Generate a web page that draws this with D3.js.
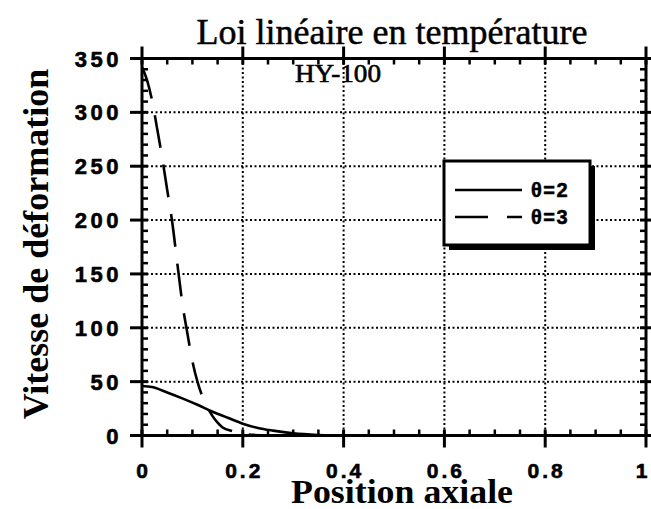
<!DOCTYPE html>
<html>
<head>
<meta charset="utf-8">
<script src="https://cdn.jsdelivr.net/npm/d3@7"></script>
<style>
  html, body { margin: 0; padding: 0; background: #fff; }
  svg { display: block; }
</style>
</head>
<body>
<svg id="chart" width="651" height="509"></svg>
<script>
// Axial position and strain rate for each curve
const positionTheta2 = [0, 0.02, 0.05, 0.08, 0.11, 0.14, 0.17, 0.2, 0.23, 0.26, 0.3, 0.35, 0.4, 0.5, 0.6, 0.8, 1.0];
const rateTheta2     = [46, 45, 40, 34.5, 28.5, 22, 16.5, 11, 7, 4.5, 2, 0.5, 0, 0, 0, 0, 0];

const positionTheta3 = [0, 0.01, 0.02, 0.03, 0.04, 0.05, 0.06, 0.07, 0.08, 0.09, 0.1, 0.11, 0.12, 0.13, 0.14, 0.15, 0.16, 0.18, 0.2, 0.22, 0.25, 0.3, 0.4, 0.6, 0.8, 1.0];
const rateTheta3     = [342, 330, 311, 285, 258, 228, 198, 160, 123, 95, 69, 50, 36, 26, 18, 12, 7.5, 4, 1.8, 0.6, 0.1, 0, 0, 0, 0, 0];

const xTicks = [0, 0.2, 0.4, 0.6, 0.8, 1];
const yTicks = [0, 50, 100, 150, 200, 250, 300, 350];
const seriesNames = ["θ=2", "θ=3"];

const svg = d3.select("#chart");
const plotLeft = 142, plotRight = 646, plotTop = 58.5, plotBottom = 435.5;

const x = d3.scaleLinear().domain([0, 1]).range([plotLeft, plotRight]);
const y = d3.scaleLinear().domain([0, 350]).range([plotBottom, plotTop]);

// Dotted grid at interior major ticks
const grid = svg.append("g").attr("stroke", "#000").attr("stroke-width", 2)
  .attr("stroke-dasharray", "2,2.5");
xTicks.filter(v => v > 0 && v < 1).forEach(v => {
  grid.append("line").attr("x1", x(v)).attr("x2", x(v)).attr("y1", plotTop).attr("y2", plotBottom);
});
yTicks.filter(v => v > 0 && v < 350).forEach(v => {
  grid.append("line").attr("y1", y(v)).attr("y2", y(v)).attr("x1", plotLeft).attr("x2", plotRight);
});

// Curves
const data2 = positionTheta2.map((p, i) => [p, rateTheta2[i]]);
const data3 = positionTheta3.map((p, i) => [p, rateTheta3[i]]);

svg.append("path").datum(data2)
  .attr("d", d3.line().x(d => x(d[0])).y(d => y(d[1])).curve(d3.curveMonotoneX))
  .attr("fill", "none").attr("stroke", "#000").attr("stroke-width", 2.6);
svg.append("path").datum(data3)
  .attr("d", d3.line().x(d => x(d[0])).y(d => y(d[1])).curve(d3.curveMonotoneX))
  .attr("fill", "none").attr("stroke", "#000").attr("stroke-width", 2.6)
  .attr("stroke-dasharray", "33,17");

// Frame and ticks on all four sides
const axes = svg.append("g").attr("stroke", "#000");
axes.append("rect").attr("x", plotLeft).attr("y", plotTop)
  .attr("width", plotRight - plotLeft).attr("height", plotBottom - plotTop)
  .attr("fill", "none").attr("stroke-width", 3);

const minorX = d3.range(0, 1.0001, 0.05).filter(v => Math.abs(v * 5 - Math.round(v * 5)) > 1e-6);
const minorY = d3.range(0, 351, 10).filter(v => v % 50 !== 0);

const majorOut = 12, majorIn = 6, minorLen = 6;
xTicks.forEach(v => {
  axes.append("line").attr("x1", x(v)).attr("x2", x(v)).attr("y1", plotBottom - majorIn).attr("y2", plotBottom + majorOut).attr("stroke-width", 3);
  axes.append("line").attr("x1", x(v)).attr("x2", x(v)).attr("y1", plotTop - majorOut).attr("y2", plotTop + majorIn).attr("stroke-width", 3);
});
yTicks.forEach(v => {
  axes.append("line").attr("y1", y(v)).attr("y2", y(v)).attr("x1", plotLeft - majorOut).attr("x2", plotLeft + majorIn).attr("stroke-width", 3);
  axes.append("line").attr("y1", y(v)).attr("y2", y(v)).attr("x1", plotRight - majorIn).attr("x2", plotRight + majorOut).attr("stroke-width", 3);
});
minorX.forEach(v => {
  axes.append("line").attr("x1", x(v)).attr("x2", x(v)).attr("y1", plotBottom).attr("y2", plotBottom - minorLen).attr("stroke-width", 2.5);
  axes.append("line").attr("x1", x(v)).attr("x2", x(v)).attr("y1", plotTop).attr("y2", plotTop + minorLen).attr("stroke-width", 2.5);
});
minorY.forEach(v => {
  axes.append("line").attr("y1", y(v)).attr("y2", y(v)).attr("x1", plotLeft).attr("x2", plotLeft + minorLen).attr("stroke-width", 2.5);
  axes.append("line").attr("y1", y(v)).attr("y2", y(v)).attr("x1", plotRight).attr("x2", plotRight - minorLen).attr("stroke-width", 2.5);
});

// Tick labels
const tickFont = "'Liberation Sans', Arial, sans-serif";
svg.append("g").selectAll("text").data(xTicks).join("text")
  .attr("x", d => Math.min(x(d) + 1.5, 643)).attr("y", 478)
  .attr("text-anchor", "middle")
  .attr("font-family", tickFont).attr("font-weight", "bold").attr("font-size", 21)
  .attr("letter-spacing", 3).attr("stroke", "#000").attr("stroke-width", 0.6)
  .text(d => String(d));
svg.append("g").selectAll("text").data(yTicks).join("text")
  .attr("x", 122).attr("y", d => y(d) + 8)
  .attr("text-anchor", "end")
  .attr("font-family", tickFont).attr("font-weight", "bold").attr("font-size", 22)
  .attr("letter-spacing", 3.5).attr("stroke", "#000").attr("stroke-width", 0.6)
  .text(d => d);

// Titles
const serif = "'Liberation Serif', 'Times New Roman', serif";
svg.append("text").attr("x", 392).attr("y", 44).attr("text-anchor", "middle")
  .attr("font-family", serif).attr("font-size", 36)
  .attr("stroke", "#000").attr("stroke-width", 0.5)
  .text("Loi linéaire en température");
svg.append("text").attr("x", 402).attr("y", 503).attr("text-anchor", "middle")
  .attr("font-family", serif).attr("font-weight", "bold").attr("font-size", 33)
  .attr("textLength", 222).attr("lengthAdjust", "spacingAndGlyphs")
  .text("Position axiale");
svg.append("text").attr("transform", "translate(48,244) rotate(-90)").attr("text-anchor", "middle")
  .attr("font-family", serif).attr("font-weight", "bold").attr("font-size", 36).text("Vitesse de déformation");

// Material annotation
svg.append("text").attr("x", 338).attr("y", 82).attr("text-anchor", "middle")
  .attr("font-family", serif).attr("font-size", 25).attr("stroke", "#000").attr("stroke-width", 0.6)
  .attr("textLength", 86).attr("lengthAdjust", "spacingAndGlyphs")
  .text("HY-100");

// Legend with drop shadow
const lg = svg.append("g");
lg.append("rect").attr("x", 449).attr("y", 166).attr("width", 146).attr("height", 84).attr("fill", "#000");
lg.append("rect").attr("x", 444).attr("y", 161).attr("width", 146).attr("height", 84)
  .attr("fill", "#fff").attr("stroke", "#000").attr("stroke-width", 3);
const legendRows = [
  { name: seriesNames[0], dash: null, yy: 190 },
  { name: seriesNames[1], dash: "33,19", yy: 217 }
];
legendRows.forEach(r => {
  lg.append("line").attr("x1", 455).attr("x2", 522).attr("y1", r.yy).attr("y2", r.yy)
    .attr("stroke", "#000").attr("stroke-width", 2.6)
    .attr("stroke-dasharray", r.dash);
  lg.append("text").attr("x", 531).attr("y", r.yy + 7)
    .attr("font-family", tickFont).attr("font-weight", "bold").attr("font-size", 20)
    .attr("letter-spacing", 1.5).attr("stroke", "#000").attr("stroke-width", 0.5)
    .text(r.name);
});
</script>
</body>
</html>
